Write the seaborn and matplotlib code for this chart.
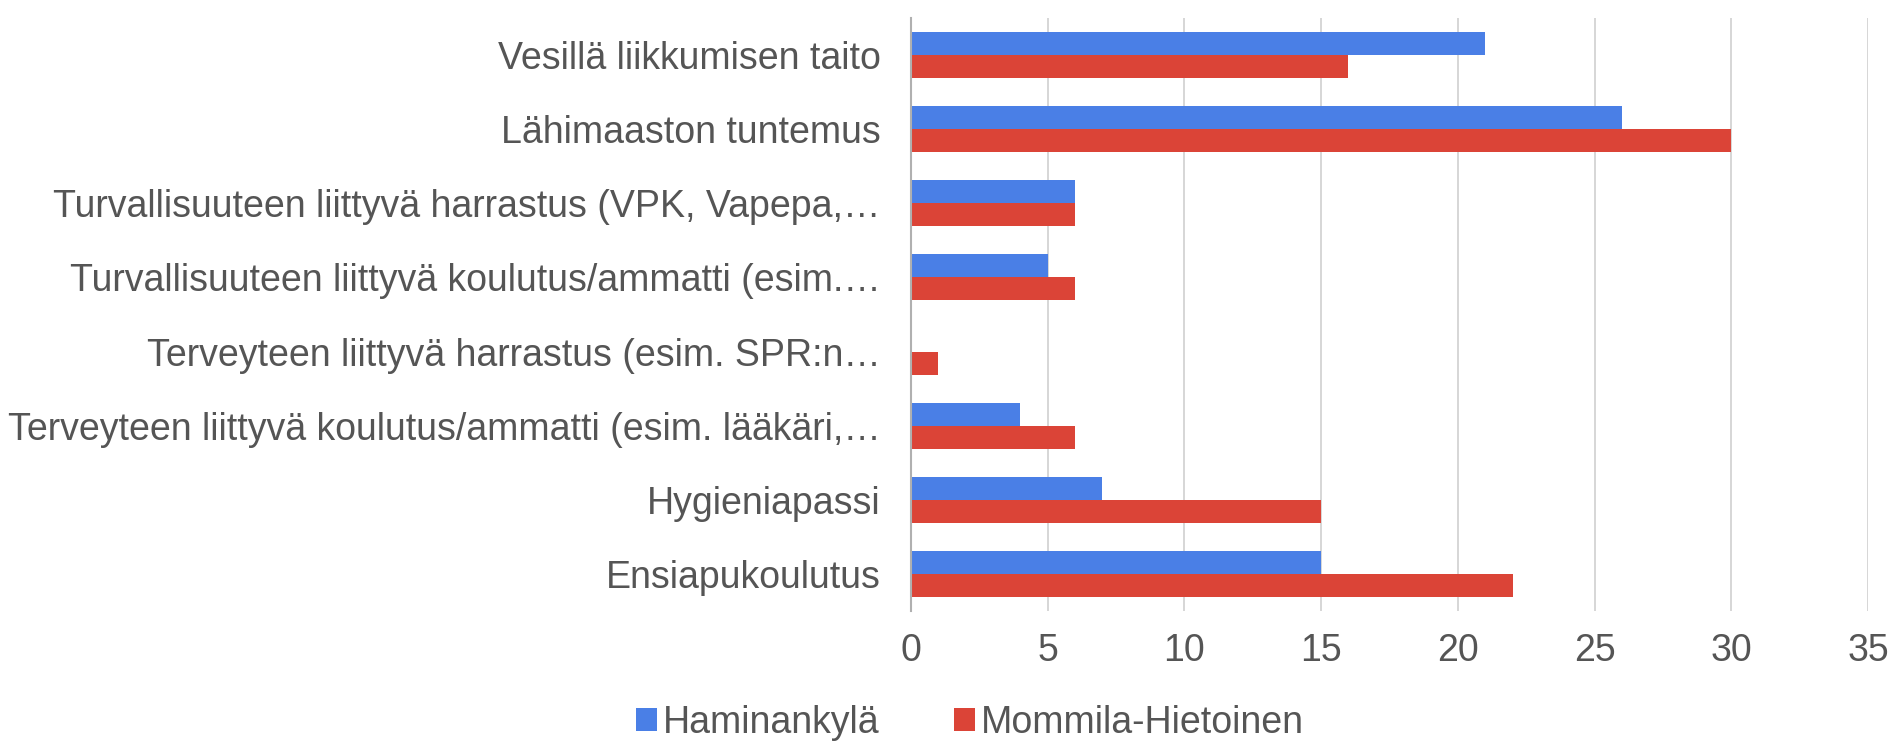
import matplotlib
matplotlib.use("Agg")
import matplotlib.pyplot as plt
import seaborn as sns
import pandas as pd
from matplotlib.patches import Patch

categories = [
    "Vesillä liikkumisen taito",
    "Lähimaaston tuntemus",
    "Turvallisuuteen liittyvä harrastus (VPK, Vapepa,…",
    "Turvallisuuteen liittyvä koulutus/ammatti (esim.…",
    "Terveyteen liittyvä harrastus (esim. SPR:n…",
    "Terveyteen liittyvä koulutus/ammatti (esim. lääkäri,…",
    "Hygieniapassi",
    "Ensiapukoulutus",
]
series_names = ["Haminankylä", "Mommila-Hietoinen"]
haminankyla = [21, 26, 6, 5, 0, 4, 7, 15]
mommila = [16, 30, 6, 6, 1, 6, 15, 22]
x_ticks = [0, 5, 10, 15, 20, 25, 30, 35]
colors = ["#4a7fe6", "#db4437"]

df = pd.DataFrame({
    "category": categories * 2,
    "series": [series_names[0]] * len(categories) + [series_names[1]] * len(categories),
    "value": haminankyla + mommila,
})

sns.set_theme(style="white")
plt.rcParams["font.family"] = ["Liberation Sans Narrow", "Liberation Sans", "DejaVu Sans"]
text_color = "#555555"

fig = plt.figure(figsize=(18.98, 7.49), dpi=100)
ax = fig.add_axes([911 / 1898, 1 - 611 / 749, (1868 - 911) / 1898, (611 - 18) / 749])

sns.barplot(data=df, y="category", x="value", hue="series", order=categories,
            hue_order=series_names, palette=colors, orient="h", width=0.62,
            saturation=1, linewidth=0, ax=ax, legend=False)

ax.set_xlim(0, 35)
ax.set_xticks(x_ticks)
ax.set_xticklabels([str(t) for t in x_ticks])
ax.set_xlabel("")
ax.set_ylabel("")
ax.grid(axis="x", color="#d0d0d0", linewidth=1.2)
ax.grid(axis="y", visible=False)
ax.set_axisbelow(True)
for s in ["top", "right", "bottom"]:
    ax.spines[s].set_visible(False)
ax.spines["left"].set_color("#b0b0b0")
ax.spines["left"].set_linewidth(1.5)
ax.tick_params(axis="both", length=0, labelsize=27, labelcolor=text_color)
ax.tick_params(axis="x", pad=16)
ax.tick_params(axis="y", pad=22)

handles = [Patch(facecolor=c, edgecolor="none") for c in colors]
fig.legend(handles, series_names, loc="center", bbox_to_anchor=(970 / 1898, 1 - 723 / 749),
           ncol=2, frameon=False, fontsize=27, labelcolor=text_color,
           handlelength=0.55, handleheight=0.55, handletextpad=0.15, columnspacing=2.0)

fig.savefig("out.png", dpi=100, facecolor="white")
